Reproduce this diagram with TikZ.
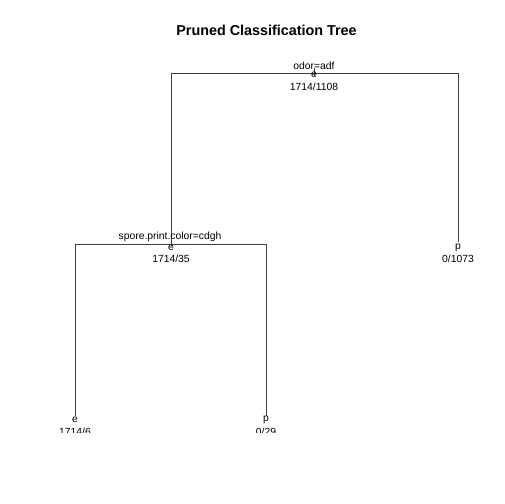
\documentclass[tikz,border=0pt]{standalone}
\usepackage{fontspec}
\setmainfont{Liberation Sans}
\begin{document}
\begin{tikzpicture}[x=1bp,y=-1bp,
  lbl/.style={inner sep=0pt,font=\fontsize{10.4}{11}\selectfont,anchor=center},
  ttl/.style={inner sep=0pt,font=\fontsize{14.4}{16}\selectfont\bfseries,anchor=center},
  br/.style={line width=0.5pt,draw=black!75}]
\useasboundingbox[fill=white] (0,0) rectangle (504,504);
\node[ttl] (title) at (266.5,30) {Pruned Classification Tree};
% node points
\coordinate (rootTop) at (314,68);
\coordinate (root) at (314,76);
\coordinate (rbar) at (314,73);
\coordinate (n2) at (171,246);
\coordinate (n2top) at (171,239);
\coordinate (n3) at (458,242);
\coordinate (n4) at (75,416);
\coordinate (n5) at (266,416);
% branches
\draw[br] (rootTop) -- (root);
\draw[br] (rbar) -| (n2);
\draw[br] (rbar) -| (n3);
\draw[br] (n2top) -- (n2);
\draw[br] (171,244) -| (n4);
\draw[br] (171,244) -| (n5);
% labels
\node[lbl] (s1) at (314,66) {odor=adf};
\node[lbl] (c1) at (314,75) {e};
\node[lbl] (k1) at (314,86.5) {1714/1108};
\node[lbl] (s2) at (170,237) {spore.print.color=cdgh};
\node[lbl] (c2) at (171,247.5) {e};
\node[lbl] (k2) at (171,258.5) {1714/35};
\node[lbl] (c3) at (458,247.5) {p};
\node[lbl] (k3) at (458,258.5) {0/1073};
\begin{scope}
\clip (0,0) rectangle (504,432.5);
\node[lbl] (c4) at (75,420) {e};
\node[lbl] (k4) at (75,431.5) {1714/6};
\node[lbl] (c5) at (266,420) {p};
\node[lbl] (k5) at (266,431.5) {0/29};
\end{scope}
\end{tikzpicture}
\end{document}
